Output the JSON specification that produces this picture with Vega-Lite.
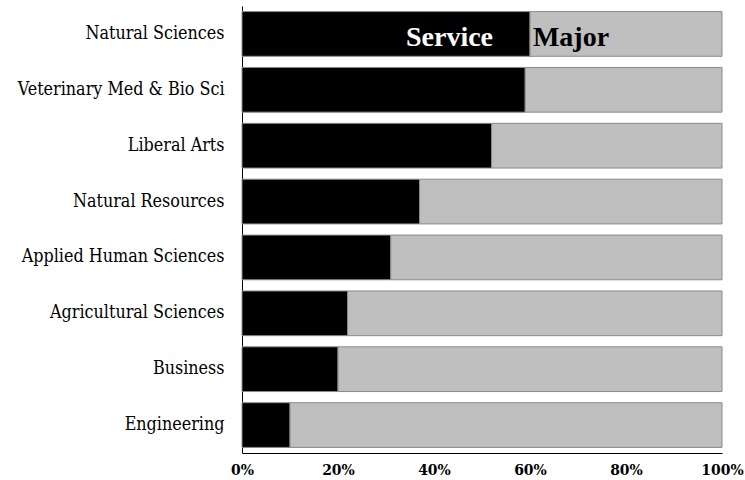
{
  "$schema": "https://vega.github.io/schema/vega-lite/v6.json",
  "width": 480,
  "height": 447,
  "autosize": "none",
  "padding": {"left": 242, "top": 6, "right": 23, "bottom": 27},
  "background": "white",
  "config": {"view": {"stroke": null}, "font": "DejaVu Serif Condensed"},
  "layer": [
    {
      "data": {"values": [
        {"college": "Natural Sciences", "type": "Service", "ord": 1, "share": 0.60},
        {"college": "Natural Sciences", "type": "Major", "ord": 2, "share": 0.40},
        {"college": "Veterinary Med & Bio Sci", "type": "Service", "ord": 1, "share": 0.59},
        {"college": "Veterinary Med & Bio Sci", "type": "Major", "ord": 2, "share": 0.41},
        {"college": "Liberal Arts", "type": "Service", "ord": 1, "share": 0.52},
        {"college": "Liberal Arts", "type": "Major", "ord": 2, "share": 0.48},
        {"college": "Natural Resources", "type": "Service", "ord": 1, "share": 0.37},
        {"college": "Natural Resources", "type": "Major", "ord": 2, "share": 0.63},
        {"college": "Applied Human Sciences", "type": "Service", "ord": 1, "share": 0.31},
        {"college": "Applied Human Sciences", "type": "Major", "ord": 2, "share": 0.69},
        {"college": "Agricultural Sciences", "type": "Service", "ord": 1, "share": 0.22},
        {"college": "Agricultural Sciences", "type": "Major", "ord": 2, "share": 0.78},
        {"college": "Business", "type": "Service", "ord": 1, "share": 0.20},
        {"college": "Business", "type": "Major", "ord": 2, "share": 0.80},
        {"college": "Engineering", "type": "Service", "ord": 1, "share": 0.10},
        {"college": "Engineering", "type": "Major", "ord": 2, "share": 0.90}
      ]},
      "mark": {"type": "bar", "stroke": "#8a8a8a", "strokeWidth": 1},
      "encoding": {
        "y": {
          "field": "college", "type": "nominal",
          "sort": ["Natural Sciences", "Veterinary Med & Bio Sci", "Liberal Arts", "Natural Resources", "Applied Human Sciences", "Agricultural Sciences", "Business", "Engineering"],
          "scale": {"paddingInner": 0.2, "paddingOuter": 0.1},
          "axis": {"title": null, "ticks": false, "domainColor": "black", "labelFontSize": 17.8, "labelLimit": 0, "labelColor": "black", "labelPadding": 18, "labelFont": "DejaVu Serif Condensed"}
        },
        "x": {
          "field": "share", "type": "quantitative", "stack": "zero",
          "scale": {"domain": [0, 1], "nice": false},
          "axis": {"title": null, "format": ".0%", "values": [0, 0.2, 0.4, 0.6, 0.8, 1], "grid": false, "ticks": false, "labelFlush": false, "domainColor": "black", "labelFontSize": 15.5, "labelFontWeight": "bold", "labelColor": "black", "labelPadding": 9, "labelFont": "DejaVu Serif Condensed"}
        },
        "color": {
          "field": "type", "type": "nominal",
          "scale": {"domain": ["Service", "Major"], "range": ["#000000", "#bfbfbf"]},
          "legend": null
        },
        "order": {"field": "ord", "type": "quantitative"}
      }
    },
    {
      "data": {"values": [
        {"college": "Natural Sciences", "label": "Service", "pos": 0.523}
      ]},
      "mark": {"type": "text", "align": "right", "baseline": "alphabetic", "fontSize": 28, "fontWeight": "bold", "color": "white", "font": "Liberation Serif", "dy": 12.5},
      "encoding": {
        "y": {"field": "college", "type": "nominal", "sort": ["Natural Sciences", "Veterinary Med & Bio Sci", "Liberal Arts", "Natural Resources", "Applied Human Sciences", "Agricultural Sciences", "Business", "Engineering"]},
        "x": {"field": "pos", "type": "quantitative"},
        "text": {"field": "label"}
      }
    },
    {
      "data": {"values": [
        {"college": "Natural Sciences", "label": "Major", "pos": 0.606}
      ]},
      "mark": {"type": "text", "align": "left", "baseline": "alphabetic", "fontSize": 28, "fontWeight": "bold", "color": "black", "font": "Liberation Serif", "dy": 12.5},
      "encoding": {
        "y": {"field": "college", "type": "nominal", "sort": ["Natural Sciences", "Veterinary Med & Bio Sci", "Liberal Arts", "Natural Resources", "Applied Human Sciences", "Agricultural Sciences", "Business", "Engineering"]},
        "x": {"field": "pos", "type": "quantitative"},
        "text": {"field": "label"}
      }
    }
  ]
}
